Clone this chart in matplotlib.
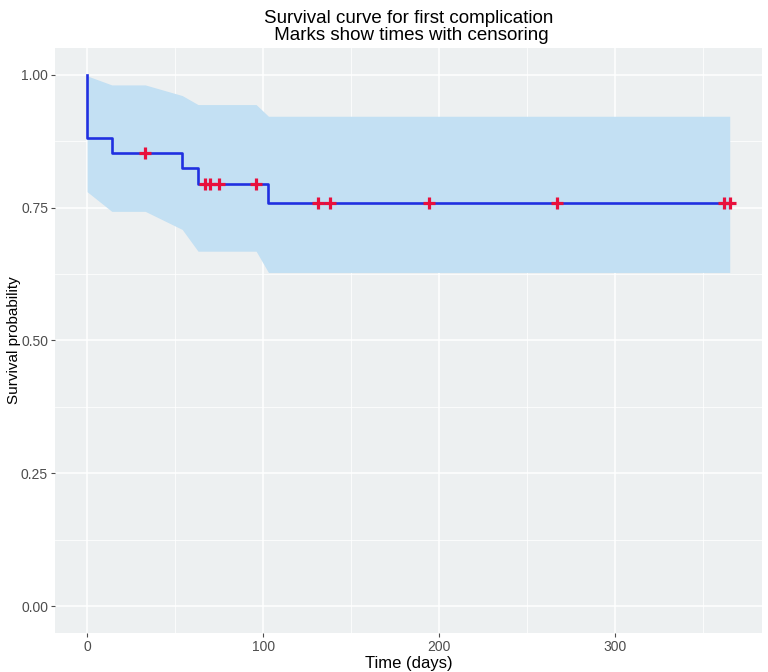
"""
Kaplan-Meier curve for first complication, censor marks and CI ribbon
"""
import matplotlib
matplotlib.use("Agg")
import matplotlib.pyplot as plt
from matplotlib.ticker import MultipleLocator

plt.rcParams['font.family'] = ['Liberation Sans', 'DejaVu Sans']

# KM table (time in days)
times = [0, 14, 33, 54, 63, 67, 70, 75, 96, 103, 131, 138, 194, 267, 362, 365]
surv = [0.882, 0.853, 0.853, 0.824, 0.794, 0.794, 0.794, 0.794, 0.794,
        0.759, 0.759, 0.759, 0.759, 0.759, 0.759, 0.759]
upper = [0.998, 0.981, 0.981, 0.961, 0.944, 0.944, 0.944, 0.944, 0.944,
         0.922, 0.922, 0.922, 0.922, 0.922, 0.922, 0.922]
lower = [0.780, 0.743, 0.743, 0.709, 0.668, 0.668, 0.668, 0.668, 0.668,
         0.628, 0.628, 0.628, 0.628, 0.628, 0.628, 0.628]
censored = [False, False, True, False, False, True, True, True, True,
            False, True, True, True, True, True, True]

x_ticks = [0, 100, 200, 300]
y_ticks = [0.00, 0.25, 0.50, 0.75, 1.00]
y_tick_labels = ["0.00", "0.25", "0.50", "0.75", "1.00"]

title = "Survival curve for first complication\n Marks show times with censoring"


def main():
    fig = plt.figure(figsize=(7.68, 6.72), dpi=100)
    ax = fig.add_axes([0.0716, 0.0585, 0.9204, 0.8697])
    ax.set_facecolor('#edf0f1')

    # confidence ribbon (linear between table rows)
    ax.fill_between(times, lower, upper, color='#c3e0f3', linewidth=0, zorder=2)

    # step curve starting at 1.0
    ax.step([0] + times, [1.0] + surv, where='post', color='#2030e0',
            linewidth=1.9, zorder=3)

    # censor marks
    ct = [t for t, c in zip(times, censored) if c]
    cs = [s for s, c in zip(surv, censored) if c]
    ax.plot(ct, cs, linestyle='none', marker='+', markersize=9,
            markeredgewidth=2.3, color='#e8103c', zorder=4)

    x_min, x_max = 0, max(times)
    pad = 0.05 * (x_max - x_min)
    ax.set_xlim(x_min - pad, x_max + pad)
    ax.set_ylim(-0.05, 1.05)

    ax.set_xticks(x_ticks)
    ax.set_yticks(y_ticks)
    ax.set_yticklabels(y_tick_labels)
    ax.xaxis.set_minor_locator(MultipleLocator(50))
    ax.yaxis.set_minor_locator(MultipleLocator(0.125))
    ax.grid(True, which='major', color='white', linewidth=1.1, zorder=1)
    ax.grid(True, which='minor', color='white', linewidth=0.55, zorder=1)
    ax.set_axisbelow(True)

    for s in ax.spines.values():
        s.set_visible(False)
    ax.tick_params(which='major', length=3, width=0.8, color='#4d4d4d',
                   labelcolor='#4d4d4d', labelsize=10, pad=2)
    ax.tick_params(which='minor', length=0)

    ax.set_xlabel('Time (days)', fontsize=12, color='black', labelpad=2)
    ax.set_ylabel('Survival probability', fontsize=11, color='black',
                  va='center')
    ax.yaxis.set_label_coords(-0.058, 0.5)
    ax.set_title(title, fontsize=13.5, color='black', pad=6, linespacing=1.0)

    fig.savefig('out.png', dpi=100)
    plt.close(fig)


if __name__ == "__main__":
    main()
